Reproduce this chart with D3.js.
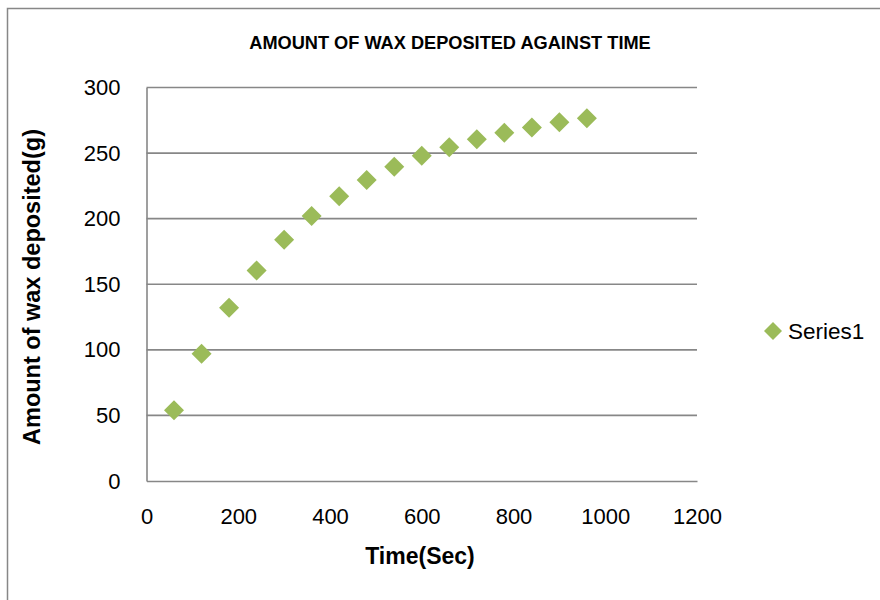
<!DOCTYPE html>
<html><head><meta charset="utf-8">
<script src="https://cdn.jsdelivr.net/npm/d3@7"></script>
<style>body{margin:0;background:#fff}svg{display:block}text{font-family:"Liberation Sans",Arial,sans-serif;fill:#000}</style>
</head><body>
<script>
const timeSec = [60,120,180,240,300,360,420,480,540,600,660,720,780,840,900,960];
const waxDeposited = [54,97,132,160.5,184,202,217,229.5,239.5,248,254.5,260.5,265.5,269.5,273.5,276.5];
const xTicks = [0,200,400,600,800,1000,1200];
const yTicks = [0,50,100,150,200,250,300];
const seriesName = "Series1";
const title = "AMOUNT OF WAX DEPOSITED AGAINST TIME";
const xTitle = "Time(Sec)";
const yTitle = "Amount of wax deposited(g)";

const W = 880, H = 600;
const svg = d3.select("body").append("svg").attr("width", W).attr("height", H);

// outer chart border
svg.append("path").attr("d", `M7.5,${H} L7.5,8.5 L${W},8.5`)
  .attr("fill","none").attr("stroke","#878787").attr("stroke-width",1.5);

const x = d3.scaleLinear().domain([0,1200]).range([146.5, 697]);
const y = d3.scaleLinear().domain([0,300]).range([481, 87.5]);

const grid = "#878787";
// gridlines
svg.append("g").selectAll("line").data(yTicks.filter(d=>d>0)).join("line")
  .attr("x1", x(0)).attr("x2", x(1200))
  .attr("y1", d=>y(d)).attr("y2", d=>y(d))
  .attr("stroke", grid).attr("stroke-width", 1.6);

// axes
const xAxis = d3.axisBottom(x).tickValues(xTicks).tickSize(0).tickPadding(27).tickFormat(d3.format("d"));
const gx = svg.append("g").attr("transform", `translate(0,${y(0)})`).call(xAxis);
gx.select(".domain").attr("stroke", grid).attr("stroke-width", 1.6);
gx.selectAll("text").attr("font-size", 22).attr("font-family","Liberation Sans, Arial, sans-serif").attr("fill","#000");

const yAxis = d3.axisLeft(y).tickValues(yTicks).tickSize(0).tickPadding(26).tickFormat(d3.format("d"));
const gy = svg.append("g").attr("transform", `translate(${x(0)},0)`).call(yAxis);
gy.select(".domain").attr("stroke", grid).attr("stroke-width", 1.6);
gy.selectAll("text").attr("font-size", 22).attr("font-family","Liberation Sans, Arial, sans-serif").attr("fill","#000");

// markers
const diamond = s => `M0,${-s} L${s},0 L0,${s} L${-s},0 Z`;
svg.append("g").selectAll("path").data(timeSec).join("path")
  .attr("transform", (d,i)=>`translate(${x(d)},${y(waxDeposited[i])})`)
  .attr("d", diamond(10)).attr("fill", "#9BBB59");

// titles
svg.append("text").attr("x", 450).attr("y", 49).attr("text-anchor","middle")
  .attr("font-size", 18.2).attr("font-weight","bold").text(title);
svg.append("text").attr("x", 420).attr("y", 564).attr("text-anchor","middle")
  .attr("font-size", 23).attr("font-weight","bold").text(xTitle);
svg.append("text").attr("transform","translate(40,287) rotate(-90)").attr("text-anchor","middle")
  .attr("font-size", 23.5).attr("font-weight","bold").text(yTitle);

// legend
const lg = svg.append("g").attr("transform","translate(773,331)");
lg.append("path").attr("d", diamond(9)).attr("fill","#9BBB59");
lg.append("text").attr("x", 15).attr("y", 7.5).attr("font-size", 22.5).text(seriesName);
</script>
</body></html>
